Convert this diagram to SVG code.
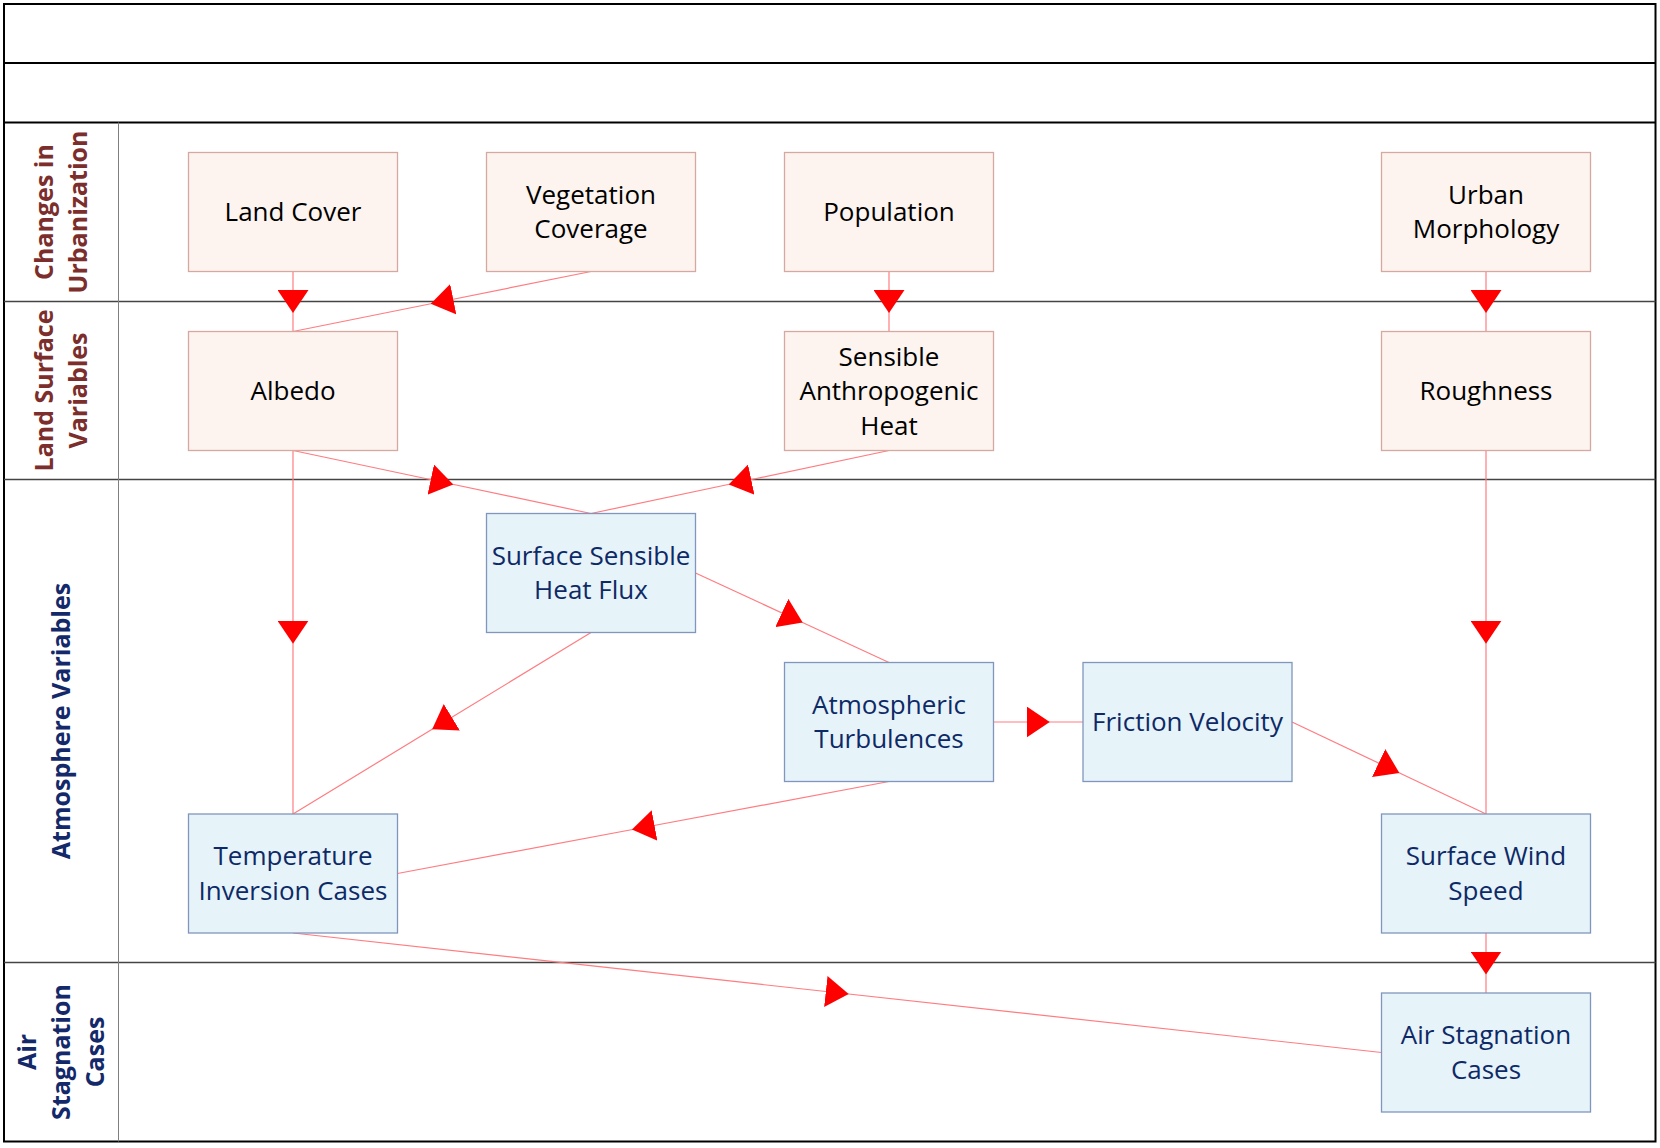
<svg xmlns="http://www.w3.org/2000/svg" width="1660" height="1148" viewBox="0 0 1660 1148">
<style>
.frame{fill:none;stroke:#000;stroke-width:2}
.hdr{stroke:#000;stroke-width:2}
.lane{stroke:#444;stroke-width:1.5}
.vdiv{stroke:#808080;stroke-width:1}
.pn rect{fill:#fdf4ef;stroke:#d4a9a2;stroke-width:1.3}
.bn rect{fill:#e6f3f9;stroke:#8096bd;stroke-width:1.3}
.pn text{fill:#000}
.bn text{fill:#0e2a66}
text{font-family:"Open Sans","Liberation Sans",sans-serif}
.nt{font-size:26px;text-anchor:middle}
.ll{font-size:25px;font-weight:bold;text-anchor:middle}
.lr{fill:#7b2e2c}
.lb{fill:#13296a}
.c{fill:none;stroke:#ff7c80;stroke-width:1.2;marker-mid:url(#ah)}
</style>
<defs>
<marker id="ah" markerUnits="userSpaceOnUse" markerWidth="23" markerHeight="31" viewBox="0 0 23 31" refX="11.5" refY="15.5" orient="auto">
<path d="M0,0 L23,15.5 L0,31 Z" fill="#ff0000"/>
</marker>
</defs>
<rect x="0" y="0" width="1660" height="1148" fill="#fff"/>
<g id="pool">
<rect class="frame" x="4" y="4" width="1651.5" height="1137.5"/>
<line class="hdr" x1="4" y1="63" x2="1655.5" y2="63"/>
<line class="hdr" x1="4" y1="122.5" x2="1655.5" y2="122.5"/>
<line class="lane" x1="4" y1="301.5" x2="1655.5" y2="301.5"/>
<line class="lane" x1="4" y1="479.5" x2="1655.5" y2="479.5"/>
<line class="lane" x1="4" y1="962.5" x2="1655.5" y2="962.5"/>
<line class="vdiv" x1="118.5" y1="122.5" x2="118.5" y2="1141.5"/>
</g>
<g id="lane-labels">
<text class="ll lr" transform="translate(61,212) rotate(-90)"><tspan x="0" y="-8.5">Changes in</tspan><tspan x="0" y="25.5">Urbanization</tspan></text>
<text class="ll lr" transform="translate(61,390.5) rotate(-90)"><tspan x="0" y="-8.5">Land Surface</tspan><tspan x="0" y="25.5">Variables</tspan></text>
<text class="ll lb" transform="translate(61,721) rotate(-90)"><tspan x="0" y="8.5">Atmosphere Variables</tspan></text>
<text class="ll lb" transform="translate(61,1052) rotate(-90)"><tspan x="0" y="-25.5">Air</tspan><tspan x="0" y="8.5">Stagnation</tspan><tspan x="0" y="42.5">Cases</tspan></text>
</g>
<g id="connectors">
<polyline class="c" points="293,271.5 293,301.5 293,331.5"/>
<polyline class="c" points="591,271.5 442,301.5 293,331.5"/>
<polyline class="c" points="889,271.5 889,301.5 889,331.5"/>
<polyline class="c" points="1486,271.5 1486,301.5 1486,331.5"/>
<polyline class="c" points="293,450.5 442,482 591,513.5"/>
<polyline class="c" points="889,450.5 740,482 591,513.5"/>
<polyline class="c" points="293,450.5 293,632.25 293,814"/>
<polyline class="c" points="1486,450.5 1486,632.25 1486,814"/>
<polyline class="c" points="695.5,573 792.25,617.75 889,662.5"/>
<polyline class="c" points="591,632.5 442,723.25 293,814"/>
<polyline class="c" points="993.5,722 1038.25,722 1083,722"/>
<polyline class="c" points="889,781.5 643.25,827.5 397.5,873.5"/>
<polyline class="c" points="1292,722 1389,768 1486,814"/>
<polyline class="c" points="1486,933 1486,963 1486,993"/>
<polyline class="c" points="293,933 837.25,992.75 1381.5,1052.5"/>
</g>
<g id="n-landcover" class="pn"><rect x="188.5" y="152.5" width="209" height="119"/><text class="nt" x="293" y="221">Land Cover</text></g>
<g id="n-vegetation" class="pn"><rect x="486.5" y="152.5" width="209" height="119"/><text class="nt" x="591"><tspan x="591" y="203.75">Vegetation</tspan><tspan x="591" y="238.25">Coverage</tspan></text></g>
<g id="n-population" class="pn"><rect x="784.5" y="152.5" width="209" height="119"/><text class="nt" x="889" y="221">Population</text></g>
<g id="n-urbanmorph" class="pn"><rect x="1381.5" y="152.5" width="209" height="119"/><text class="nt"><tspan x="1486" y="203.75">Urban</tspan><tspan x="1486" y="238.25">Morphology</tspan></text></g>
<g id="n-albedo" class="pn"><rect x="188.5" y="331.5" width="209" height="119"/><text class="nt" x="293" y="400">Albedo</text></g>
<g id="n-sah" class="pn"><rect x="784.5" y="331.5" width="209" height="119"/><text class="nt"><tspan x="889" y="365.5">Sensible</tspan><tspan x="889" y="400">Anthropogenic</tspan><tspan x="889" y="434.5">Heat</tspan></text></g>
<g id="n-roughness" class="pn"><rect x="1381.5" y="331.5" width="209" height="119"/><text class="nt" x="1486" y="400">Roughness</text></g>
<g id="n-sshf" class="bn"><rect x="486.5" y="513.5" width="209" height="119"/><text class="nt"><tspan x="591" y="564.75">Surface Sensible</tspan><tspan x="591" y="599.25">Heat Flux</tspan></text></g>
<g id="n-at" class="bn"><rect x="784.5" y="662.5" width="209" height="119"/><text class="nt"><tspan x="889" y="713.75">Atmospheric</tspan><tspan x="889" y="748.25">Turbulences</tspan></text></g>
<g id="n-fv" class="bn"><rect x="1083" y="662.5" width="209" height="119"/><text class="nt" x="1187.5" y="731">Friction Velocity</text></g>
<g id="n-tic" class="bn"><rect x="188.5" y="814" width="209" height="119"/><text class="nt"><tspan x="293" y="865.25">Temperature</tspan><tspan x="293" y="899.75">Inversion Cases</tspan></text></g>
<g id="n-sws" class="bn"><rect x="1381.5" y="814" width="209" height="119"/><text class="nt"><tspan x="1486" y="865.25">Surface Wind</tspan><tspan x="1486" y="899.75">Speed</tspan></text></g>
<g id="n-asc" class="bn"><rect x="1381.5" y="993" width="209" height="119"/><text class="nt"><tspan x="1486" y="1044.25">Air Stagnation</tspan><tspan x="1486" y="1078.75">Cases</tspan></text></g>
</svg>
